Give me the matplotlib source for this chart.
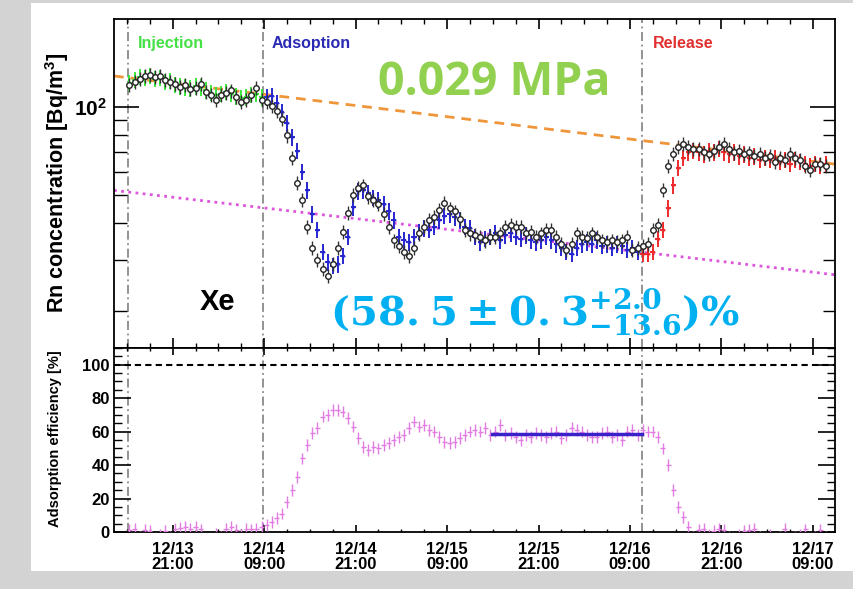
import numpy as np
import matplotlib
matplotlib.use("Agg")
import matplotlib.pyplot as plt
from matplotlib.ticker import FixedLocator, MultipleLocator, NullFormatter
from matplotlib.patches import Rectangle

# ---------------- data (time in hours since 12/13 00:00) ----------------
t_start = 15.33
t_step = 2.0 / 3.0

# Rn concentration, reference detector (black open circles) [Bq/m3]
black_rn = [119, 122, 125, 128, 129, 127, 128, 124, 122, 120,
            117, 119, 115, 116, 120, 113, 110, 106, 110, 112,
            114, 108, 104, 106, 110, 116, 106, 104, 101, 97,
            91, 80, 67, 55, 48, 39, 33, 30, 28, 26.5,
            29, 33, 37.5, 43.5, 50, 53, 54, 49.5, 48, 46.5,
            43, 39, 35, 33.5, 32, 31, 33, 37, 39, 41,
            42, 44.5, 47, 45, 44, 41.5, 38, 37, 36.5, 36,
            35, 36, 36, 37, 39, 39.5, 39, 38.8, 37, 37.5,
            36, 37, 38, 38, 36, 34, 32.5, 34, 37, 36,
            35.6, 37, 36, 35, 34.5, 35, 34.5, 35, 35.9, 32.5,
            33, 33.5, 34, 38, 39.5, 52, 63, 69, 73, 75,
            73, 72, 72, 70, 69, 71, 73, 75, 72, 70,
            71, 69, 70, 68, 69, 67, 68, 65, 67, 66,
            69, 67, 66, 63, 61, 64, 64, 63]

# Rn concentration after the column (green: injection, blue: adsorption, red: release)
col_rn = [121, 124, 127, 126, 128, 125, 126, 122, 123, 119,
          118, 117, 116, 118, 117, 114, 112, 110, 111, 113,
          111, 109, 107, 108, 110, 111, 108, 108, 109, 103,
          96, 88, 79, 71, 60, 52, 43, 38, 32, 29.5,
          28.7, 29, 31, 36, 45.5, 51.5, 52, 51, 49, 48,
          46.5, 44, 41, 36, 35, 34.5, 36, 37.5, 38.5, 38,
          39, 41, 42.5, 43, 42, 41, 39, 38.5, 36, 34.5,
          35.5, 36, 37, 35, 36.5, 37, 36, 35.5, 36.5, 35,
          34.5, 35, 36, 35, 34, 33, 32, 31.5, 33, 34,
          34.5, 34, 35, 33.5, 34, 33, 34, 33.5, 32.5, 33,
          32, 31.5, 31.5, 32, 35.5, 38, 45, 54, 62, 67,
          70, 71, 70, 69, 71, 70, 72, 70, 69, 70,
          68, 69, 67, 68, 66, 67, 66, 67, 65, 66,
          64, 66, 65, 64, 63, 64, 63, 64]

# Adsorption efficiency [%]
eff = [1, 2, -3, 1, 0.5, -4, -2, 0.5, -3, 2,
       2.5, 3, 2, 3, 1.5, -4, -5, -1, -3, 2,
       3, 1, -2, 2, 1.5, 2, 3, 4, 6, 8.5,
       11, 18, 25, 33, 44, 52, 59, 62, 69, 70,
       73, 73, 72, 68, 63, 56, 51, 49, 51, 50,
       52, 53, 55, 57, 58, 62, 66, 63, 64, 61,
       60, 57, 54, 53, 54, 56, 58, 60, 61, 60,
       62, 58, 60, 64, 58, 59, 57, 55, 58, 57,
       59, 58, 57, 59, 60, 56, 58, 62, 61, 60,
       58, 57, 57, 59, 60, 57, 58, 55, 60, 61,
       58, 61, 60, 60, 57, 50, 40, 25, 15, 9,
       3, -3, 1, 2, -2, 0.5, 2, 1, -3, -4,
       -2, 0.5, 1, 2, -3, -4, -2, -5, -3, 2,
       -4, -3, -2, 1.5, -4, -3, 1, -3]

inj_end, rel_start = 27, 101          # sample index where phases change
phase_lines = [15.1, 32.8, 82.6]      # Injection / Adsoption / Release start (h)

orange_t, orange_rn = [13.3, 107.9], [127.7, 63.8]     # decay trend, no adsorption
magenta_t, magenta_rn = [13.3, 107.9], [51.9, 26.7]    # decay trend, 58.5% adsorbed
fit_t, fit_eff = [62.9, 82.6], [58.5, 58.5]            # efficiency fit

tick_hours = [21, 33, 45, 57, 69, 81, 93, 105]
tick_labels = ['12/13\n21:00', '12/14\n09:00', '12/14\n21:00', '12/15\n09:00',
               '12/15\n21:00', '12/16\n09:00', '12/16\n21:00', '12/17\n09:00']

# ---------------- style ----------------
plt.rcParams['font.family'] = ['Liberation Sans', 'DejaVu Sans']
plt.rcParams['font.weight'] = 'bold'
plt.rcParams['mathtext.fontset'] = 'custom'
plt.rcParams['mathtext.rm'] = 'Liberation Sans:bold'
plt.rcParams['mathtext.bf'] = 'Liberation Sans:bold'
plt.rcParams['mathtext.it'] = 'Liberation Sans:bold'

W, H = 854, 589
fig = plt.figure(figsize=(W / 100, H / 100), dpi=100)
fig.patch.set_facecolor('#d3d3d3')
fig.add_artist(Rectangle((31 / W, 18 / H), (W - 31) / W, 568 / H,
                         transform=fig.transFigure, facecolor='white',
                         edgecolor='none', zorder=-5))

def fx(x):
    return x / W

def fy(y):
    return 1 - y / H

ax1 = fig.add_axes([fx(114), fy(348), (835 - 114) / W, (348 - 19) / H])
ax2 = fig.add_axes([fx(114), fy(532), (835 - 114) / W, (532 - 348) / H], sharex=ax1)

t = t_start + t_step * np.arange(len(black_rn))
black = np.array(black_rn, dtype=float)
col = np.array(col_rn, dtype=float)
effa = np.array(eff, dtype=float)

# ---------------- top panel ----------------
ax1.set_yscale('log')
ax1.set_xlim(13.3, 107.9)
ax1.set_ylim(15, 200)

ax1.plot(orange_t, orange_rn, ls=(0, (3.5, 2.5)), color='#f0963a', lw=2, zorder=2)
ax1.plot(magenta_t, magenta_rn, ls=(0, (1, 1.6)), color='#dd55dd', lw=2, zorder=2)

for sl, c in [(slice(0, inj_end), '#3ae83a'),
              (slice(inj_end, rel_start), '#2626d0'),
              (slice(rel_start, None), '#ee2a2a')]:
    ax1.errorbar(t[sl], col[sl], yerr=col[sl] * 0.065, xerr=0.33, fmt='+', ms=3,
                 color=c, ecolor=c, elinewidth=1.4, zorder=3)

ax1.errorbar(t, black, yerr=black * 0.055, xerr=0.33, fmt='o', ms=4,
             mfc='white', mec='#222222', mew=1.0, ecolor='#333333',
             elinewidth=1.0, zorder=4)

for xl in phase_lines:
    ax1.axvline(xl, color='#8a8a8a', ls=(0, (5, 2, 1, 2)), lw=1.3, zorder=1)
    ax2.axvline(xl, color='#8a8a8a', ls=(0, (5, 2, 1, 2)), lw=1.3, zorder=1)

ax1.yaxis.set_major_locator(FixedLocator([100]))
ax1.set_yticks([100], labels=['$10^{2}$'])
ax1.yaxis.set_minor_locator(FixedLocator([20, 30, 40, 50, 60, 70, 80, 90]))
ax1.yaxis.set_minor_formatter(NullFormatter())
ax1.tick_params(axis='y', which='major', direction='in', length=18, width=1.2,
                right=True, labelsize=15, pad=5)
ax1.tick_params(axis='y', which='minor', direction='in', length=9, width=1.0, right=True)
ax1.xaxis.set_major_locator(FixedLocator(tick_hours))
ax1.xaxis.set_minor_locator(MultipleLocator(3))
ax1.tick_params(axis='x', which='major', direction='in', length=7, width=1.2,
                top=True, labelbottom=False)
ax1.tick_params(axis='x', which='minor', direction='in', length=3.5, width=1.0, top=True)
for s in ax1.spines.values():
    s.set_linewidth(1.3)

# ---------------- bottom panel ----------------
ax2.set_ylim(0, 110)
ax2.axhline(100, color='black', ls=(0, (3, 2)), lw=1.5, zorder=2)
ax2.errorbar(t, effa, yerr=3.5, xerr=0.33, fmt='none', ecolor='#e27be2',
             elinewidth=1.0, zorder=3)
ax2.plot(fit_t, fit_eff, color='#3a22c8', lw=2.5, zorder=4)

ax2.set_yticks([0, 20, 40, 60, 80, 100])
ax2.yaxis.set_minor_locator(MultipleLocator(5))
ax2.tick_params(axis='y', which='major', direction='in', length=12, width=1.2,
                right=True, labelsize=12, pad=3)
ax2.tick_params(axis='y', which='minor', direction='in', length=6, width=1.0, right=True)
ax2.set_xticks(tick_hours, labels=tick_labels, linespacing=1.0)
ax2.tick_params(axis='x', which='major', direction='in', length=5, width=1.2,
                top=True, labelsize=12, pad=7)
ax2.tick_params(axis='x', which='minor', direction='in', length=2.5, width=1.0, top=True)
for s in ax2.spines.values():
    s.set_linewidth(1.3)

# ---------------- texts ----------------
fig.text(fx(57), fy(183), 'Rn concentration [Bq/m$^{3}$]', rotation=90,
         ha='center', va='center', fontsize=15.5, weight='bold')
fig.text(fx(55), fy(439), 'Adsorption efficiency [%]', rotation=90,
         ha='center', va='center', fontsize=10.5, weight='bold')

fig.text(fx(138), fy(48), 'Injection', color='#45e045', fontsize=11.5,
         weight='bold', va='baseline')
fig.text(fx(272), fy(48), 'Adsoption', color='#2a2ab4', fontsize=11.5,
         weight='bold', va='baseline')
fig.text(fx(653), fy(48), 'Release', color='#e03030', fontsize=11.5,
         weight='bold', va='baseline')
fig.text(fx(378), fy(95), '0.029 MPa', family='Open Sans', weight='bold',
         fontsize=33.5, color='#92d050', va='baseline')
fig.text(fx(200), fy(310), 'Xe', fontsize=21, weight='bold', va='baseline')
fig.text(fx(330), fy(326),
         r'$\mathbf{(58.\hspace{0.04}5\pm0.\hspace{0.04}3^{+2.0}_{-13.6})\%}$',
         math_fontfamily='dejavuserif', fontsize=29, color='#00b0f0', va='baseline')

fig.savefig('out.png', dpi=100)
